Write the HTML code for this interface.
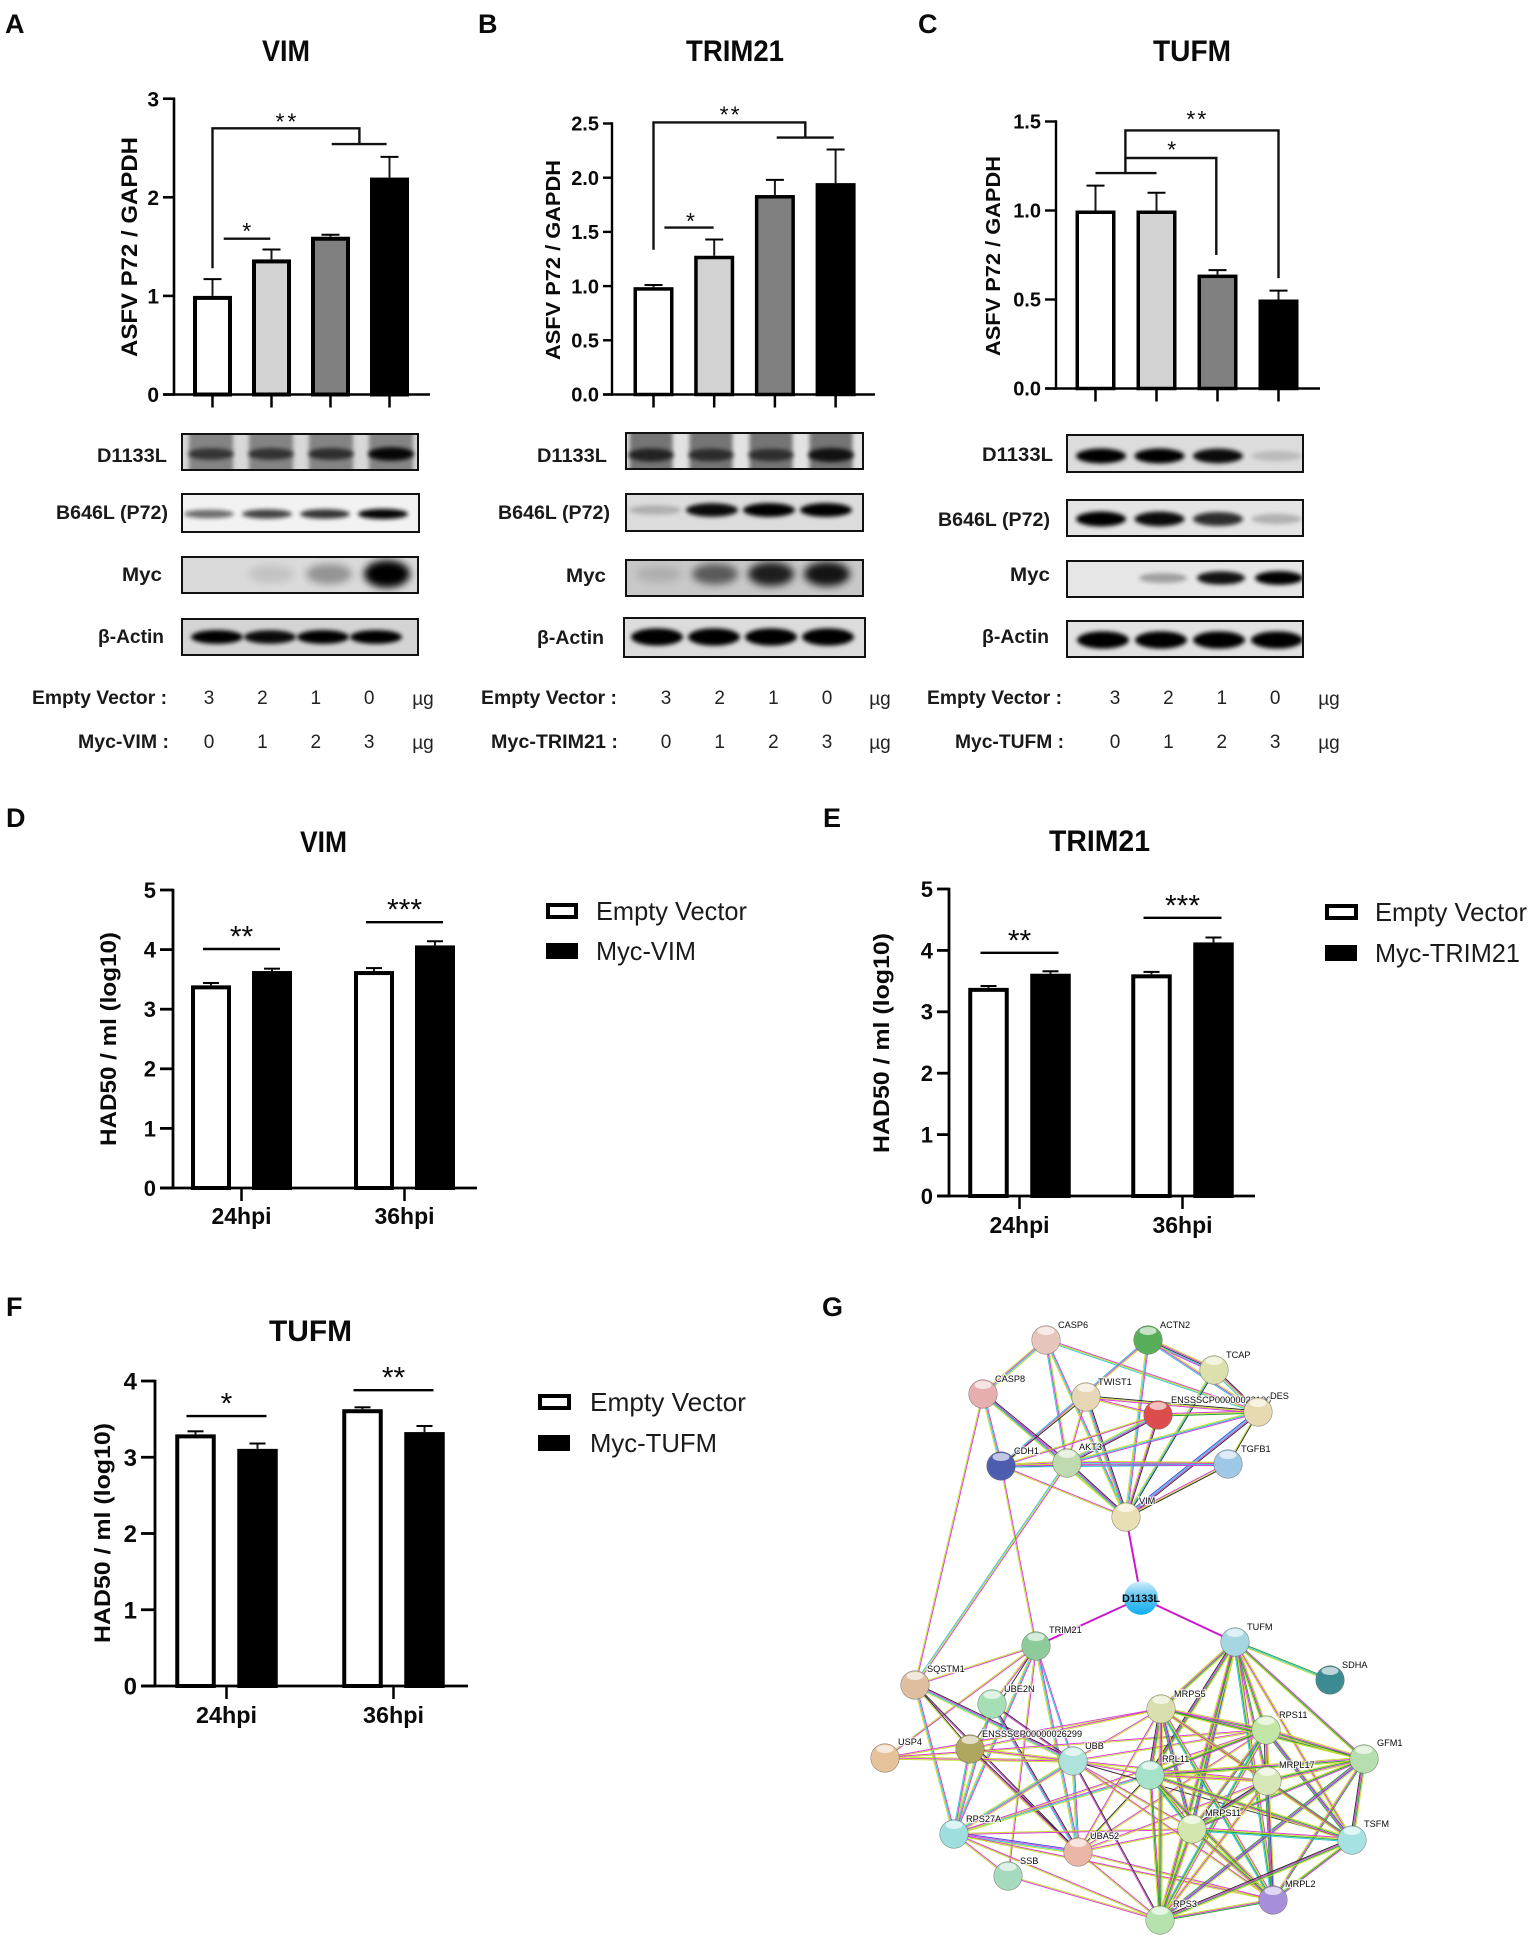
<!DOCTYPE html>
<html lang="en">
<head>
<meta charset="utf-8">
<title>ASFV P72 expression and viral titres with VIM, TRIM21 and TUFM</title>
<style>
html,body{margin:0;padding:0;background:#fff;}
svg{display:block;}
text{font-family:"Liberation Sans",Arial,sans-serif;fill:#0a0a0a;}
.b{font-weight:bold;}
.panel{font-size:27px;font-weight:bold;}
.title{font-size:30px;font-weight:bold;}
.blot{font-size:19.5px;font-weight:bold;fill:#1a1a1a;}
.row{font-size:19px;font-weight:bold;fill:#1a1a1a;}
.num{font-size:19px;fill:#222;}
.leg{font-size:26px;fill:#1a1a1a;}
.cat{font-size:23px;font-weight:bold;}
.yl{font-size:21px;font-weight:bold;}
</style>
</head>
<body>
<svg id="fig" xmlns="http://www.w3.org/2000/svg" width="1535" height="1942" viewBox="0 0 1535 1942">
<defs>
<filter id="blur2" x="-40%" y="-80%" width="180%" height="260%"><feGaussianBlur stdDeviation="2"/></filter>
<filter id="blur4" x="-40%" y="-80%" width="180%" height="260%"><feGaussianBlur stdDeviation="4"/></filter>
<linearGradient id="queryGrad" x1="0" y1="0" x2="0" y2="1"><stop offset="0" stop-color="#d4eefa"/><stop offset="0.45" stop-color="#62c6f2"/><stop offset="1" stop-color="#10aef0"/></linearGradient>
</defs>
<rect width="1535" height="1942" fill="#fff"/>

<text class="panel" x="5" y="33">A</text>
<text class="panel" x="478" y="33">B</text>
<text class="panel" x="918" y="33">C</text>
<text class="panel" x="6" y="827">D</text>
<text class="panel" x="823" y="827">E</text>
<text class="panel" x="6" y="1316">F</text>
<text class="panel" x="822" y="1316">G</text>

<text class="title" x="262" y="61" textLength="48" lengthAdjust="spacingAndGlyphs">VIM</text>
<text class="title" x="686" y="61" textLength="98" lengthAdjust="spacingAndGlyphs">TRIM21</text>
<text class="title" x="1153" y="61" textLength="78" lengthAdjust="spacingAndGlyphs">TUFM</text>
<text class="title" x="300" y="852" textLength="47" lengthAdjust="spacingAndGlyphs">VIM</text>
<text class="title" x="1049" y="851" textLength="101" lengthAdjust="spacingAndGlyphs">TRIM21</text>
<text class="title" x="269" y="1341" textLength="83" lengthAdjust="spacingAndGlyphs">TUFM</text>

<text class="b" font-size="22" transform="translate(137,357) rotate(-90)" textLength="220" lengthAdjust="spacingAndGlyphs">ASFV P72 / GAPDH</text>
<text class="b" font-size="20" transform="translate(560,360) rotate(-90)" textLength="200" lengthAdjust="spacingAndGlyphs">ASFV P72 / GAPDH</text>
<text class="b" font-size="20" transform="translate(1000,356) rotate(-90)" textLength="200" lengthAdjust="spacingAndGlyphs">ASFV P72 / GAPDH</text>
<text class="b" font-size="22" transform="translate(116,1146) rotate(-90)" textLength="214" lengthAdjust="spacingAndGlyphs">HAD50 / ml (log10)</text>
<text class="b" font-size="22" transform="translate(889,1153) rotate(-90)" textLength="220" lengthAdjust="spacingAndGlyphs">HAD50 / ml (log10)</text>
<text class="b" font-size="22" transform="translate(110,1643) rotate(-90)" textLength="220" lengthAdjust="spacingAndGlyphs">HAD50 / ml (log10)</text>

<!-- Blot labels -->
<text class="blot" x="97" y="462" textLength="70" lengthAdjust="spacingAndGlyphs">D1133L</text>
<text class="blot" x="56" y="519" textLength="112" lengthAdjust="spacingAndGlyphs">B646L (P72)</text>
<text class="blot" x="122" y="581" textLength="40" lengthAdjust="spacingAndGlyphs">Myc</text>
<text class="blot" x="98" y="643" textLength="66" lengthAdjust="spacingAndGlyphs">β-Actin</text>
<text class="blot" x="537" y="462" textLength="70" lengthAdjust="spacingAndGlyphs">D1133L</text>
<text class="blot" x="498" y="519" textLength="112" lengthAdjust="spacingAndGlyphs">B646L (P72)</text>
<text class="blot" x="566" y="582" textLength="40" lengthAdjust="spacingAndGlyphs">Myc</text>
<text class="blot" x="537" y="644" textLength="67" lengthAdjust="spacingAndGlyphs">β-Actin</text>
<text class="blot" x="982" y="461" textLength="71" lengthAdjust="spacingAndGlyphs">D1133L</text>
<text class="blot" x="938" y="526" textLength="112" lengthAdjust="spacingAndGlyphs">B646L (P72)</text>
<text class="blot" x="1010" y="581" textLength="40" lengthAdjust="spacingAndGlyphs">Myc</text>
<text class="blot" x="982" y="643" textLength="67" lengthAdjust="spacingAndGlyphs">β-Actin</text>

<!-- Dose rows -->
<text class="row" x="32" y="704" textLength="135" lengthAdjust="spacingAndGlyphs">Empty Vector :</text>
<text class="row" x="78" y="748" textLength="91" lengthAdjust="spacingAndGlyphs">Myc-VIM :</text>
<text class="row" x="481" y="704" textLength="136" lengthAdjust="spacingAndGlyphs">Empty Vector :</text>
<text class="row" x="491" y="748" textLength="127" lengthAdjust="spacingAndGlyphs">Myc-TRIM21 :</text>
<text class="row" x="927" y="704" textLength="135" lengthAdjust="spacingAndGlyphs">Empty Vector :</text>
<text class="row" x="955" y="748" textLength="109" lengthAdjust="spacingAndGlyphs">Myc-TUFM :</text>

<!-- Legends -->
<g>
<rect x="548" y="905" width="28" height="12" fill="#fff" stroke="#000" stroke-width="4"/>
<text class="leg" x="596" y="920" textLength="151" lengthAdjust="spacingAndGlyphs">Empty Vector</text>
<rect x="546" y="943" width="32" height="16" fill="#000"/>
<text class="leg" x="596" y="960" textLength="100" lengthAdjust="spacingAndGlyphs">Myc-VIM</text>
</g>
<g>
<rect x="1327" y="906" width="29" height="12" fill="#fff" stroke="#000" stroke-width="4"/>
<text class="leg" x="1375" y="921" textLength="152" lengthAdjust="spacingAndGlyphs">Empty Vector</text>
<rect x="1325" y="945" width="32" height="16" fill="#000"/>
<text class="leg" x="1375" y="962" textLength="145" lengthAdjust="spacingAndGlyphs">Myc-TRIM21</text>
</g>
<g>
<rect x="540" y="1396" width="29" height="12" fill="#fff" stroke="#000" stroke-width="4"/>
<text class="leg" x="590" y="1411" textLength="156" lengthAdjust="spacingAndGlyphs">Empty Vector</text>
<rect x="538" y="1435" width="32" height="16" fill="#000"/>
<text class="leg" x="590" y="1452" textLength="127" lengthAdjust="spacingAndGlyphs">Myc-TUFM</text>
</g>

<g id="marks"></g>
<g id="blots"></g>
<g id="doses"></g>
<g id="network"></g>
</svg>

<script>
// ---------- Bar chart data (panels A-C) ----------
const vimBlotValues = [1.0, 1.37, 1.6, 2.2];
const vimBlotErrors = [0.17, 0.10, 0.02, 0.21];
const trimBlotValues = [0.99, 1.28, 1.84, 1.95];
const trimBlotErrors = [0.02, 0.15, 0.14, 0.31];
const tufmBlotValues = [1.0, 1.0, 0.64, 0.5];
const tufmBlotErrors = [0.14, 0.10, 0.025, 0.05];
const vimBlotTicks = [0, 1, 2, 3];
const halfStepTicks = [0, 0.5, 1, 1.5, 2, 2.5];
const tufmBlotTicks = [0, 0.5, 1, 1.5];

// ---------- Bar chart data (panels D-F) ----------
const hpiCategories = ['24hpi', '36hpi'];
const vimEmptyTitre = [3.40, 3.64];
const vimMycTitre = [3.64, 4.07];
const vimEmptyError = [0.04, 0.05];
const vimMycError = [0.04, 0.07];
const trimEmptyTitre = [3.39, 3.61];
const trimMycTitre = [3.62, 4.13];
const trimEmptyError = [0.03, 0.04];
const trimMycError = [0.04, 0.08];
const tufmEmptyTitre = [3.30, 3.63];
const tufmMycTitre = [3.11, 3.33];
const tufmEmptyError = [0.04, 0.025];
const tufmMycError = [0.07, 0.08];
const titreTicksFive = [0, 1, 2, 3, 4, 5];
const titreTicksFour = [0, 1, 2, 3, 4];

// ---------- Dose table ----------
const emptyVectorDose = ['3', '2', '1', '0'];
const mycDose = ['0', '1', '2', '3'];

// ---------- Blot band intensities ----------
const aD1133L = [0.6, 0.62, 0.65, 0.95];
const aB646L = [0.55, 0.72, 0.78, 0.98];
const aMyc = [0, 0.1, 0.32, 1];
const aActin = [1, 0.95, 1, 1];
const bD1133L = [0.7, 0.62, 0.6, 0.85];
const bB646L = [0.2, 0.95, 1, 1];
const bMyc = [0.12, 0.55, 0.85, 0.9];
const bActin = [1, 1, 1, 1];
const cD1133L = [1, 1, 0.95, 0.15];
const cB646L = [1, 0.95, 0.8, 0.22];
const cMyc = [0, 0.3, 0.92, 1];
const cActin = [1, 1, 1, 1];

const NS = 'http://www.w3.org/2000/svg';
const marks = document.getElementById('marks');
const blotsLayer = document.getElementById('blots');
const dosesLayer = document.getElementById('doses');
const netLayer = document.getElementById('network');

function mk(tag, attrs, parent) {
  const n = document.createElementNS(NS, tag);
  for (const k in attrs) n.setAttribute(k, attrs[k]);
  parent.appendChild(n);
  return n;
}
function scaleY(y0, yTop, max) { return v => y0 - (v / max) * (y0 - yTop); }

function drawLine(parent, x1, y1, x2, y2, w, name) {
  const l = mk('line', {x1, y1, x2, y2, stroke: '#000', 'stroke-width': w}, parent);
  
  
  return l;
}

function drawStars(parent, cx, cy, stars, size, spacing) {
  const t = mk('text', {x: cx, y: cy + size * 0.48, 'text-anchor': 'middle', 'font-size': size, 'letter-spacing': spacing}, parent);
  t.textContent = stars;
  
  
}

function drawAxes(g, L, y, ticks, decimals) {
  drawLine(g, L.axisX, y(ticks[ticks.length - 1]) - 1.2, L.axisX, L.y0 + 1.2, L.axisW, 'y-axis-line');
  drawLine(g, L.tickLeft, L.y0, L.axisEnd, L.y0, L.axisW, 'x-axis-line');
  ticks.forEach(v => {
    drawLine(g, L.tickLeft, y(v), L.axisX, y(v), L.axisW, 'y-axis-tick');
    const t = mk('text', {x: L.tickLeft - 4, y: y(v) + L.tickFont * 0.36, 'text-anchor': 'end', 'font-size': L.tickFont, 'font-weight': 'bold'}, g);
    t.textContent = v.toFixed(decimals);
    
    
  });
}

function drawBar(g, cx, w, sw, val, err, y, y0, fill, capW, name) {
  const topY = y(val);
  const errLine = drawLine(g, cx, topY, cx, y(val + err), 2, 'error-bar');
  errLine.setAttribute('stroke', '#1a1a1a');
  drawLine(g, cx - capW / 2, y(val + err), cx + capW / 2, y(val + err), 2, 'error-bar-cap');
  const r = mk('rect', {x: cx - w / 2 + sw / 2, y: topY + sw / 2, width: w - sw, height: Math.max(0, y0 - topY - sw / 2), fill, stroke: '#000', 'stroke-width': sw}, g);
  
  
}

// ---------- Panels A-C ----------
const blotFills = ['#ffffff', '#d2d2d2', '#808080', '#000000'];

function blotChart(name, L, values, errors, ticks, decimals, sig) {
  const g = mk('g', {}, marks);
  
  
  const y = scaleY(L.y0, L.yTop, ticks[ticks.length - 1]);
  const x = i => L.first + i * L.step;
  values.forEach((v, i) => {
    drawBar(g, x(i), L.barW, L.sw, v, errors[i], y, L.y0, blotFills[i], 18, 'bar-lane-' + (i + 1));
    drawLine(g, x(i), L.y0, x(i), L.y0 + 13, 2.5, 'x-axis-tick');
  });
  drawAxes(g, L, y, ticks, decimals);
  sig.paths.forEach(p => {
    const pts = p.map(q => x(q[0]).toFixed(1) + ',' + y(q[1]).toFixed(1)).join(' ');
    const pl = mk('polyline', {points: pts, fill: 'none', stroke: '#111', 'stroke-width': 2.4}, g);
    
    
  });
  sig.stars.forEach(s => drawStars(g, x(s[0]), y(s[1]), s[2], 23, s[3]));
}

blotChart('bar-chart-vim-p72',
  {axisX:174, y0:394.5, yTop:98.7, tickLeft:163, axisEnd:430, axisW:2.6, tickFont:21, first:212.5, step:59, barW:39, sw:4},
  vimBlotValues, vimBlotErrors, vimBlotTicks, 0,
  {paths:[[[0,1.28],[0,2.70],[2.49,2.70],[2.49,2.54]], [[2.02,2.54],[2.95,2.54]], [[0.19,1.58],[0.98,1.58]]],
   stars:[[1.27,2.80,'**',3],[0.58,1.69,'*',0]]});

blotChart('bar-chart-trim21-p72',
  {axisX:612, y0:394.5, yTop:123.5, tickLeft:603, axisEnd:875, axisW:2.4, tickFont:20, first:653.5, step:60.7, barW:40, sw:3.5},
  trimBlotValues, trimBlotErrors, halfStepTicks, 1,
  {paths:[[[0,1.335],[0,2.51],[2.5,2.51],[2.5,2.37]], [[2.03,2.37],[2.97,2.37]], [[0.18,1.54],[0.99,1.54]]],
   stars:[[1.27,2.61,'**',2],[0.61,1.63,'*',0]]});

blotChart('bar-chart-tufm-p72',
  {axisX:1056, y0:388.5, yTop:121.5, tickLeft:1045, axisEnd:1320, axisW:2.4, tickFont:20, first:1095.5, step:61, barW:40, sw:3.5},
  tufmBlotValues, tufmBlotErrors, tufmBlotTicks, 1,
  {paths:[[[0,1.21],[1,1.21]], [[0.49,1.21],[0.49,1.45],[3,1.45],[3,0.62]], [[0.49,1.295],[1.98,1.295],[1.98,0.75]]],
   stars:[[1.67,1.53,'**',2],[1.25,1.36,'*',0]]});

// ---------- Panels D-F ----------
function titreChart(name, L, empty, myc, emptyErr, mycErr, ticks, sig) {
  const g = mk('g', {}, marks);
  
  
  const y = scaleY(L.y0, L.yTop, ticks[ticks.length - 1]);
  const x = i => L.first + i * L.step;
  hpiCategories.forEach((c, i) => {
    drawBar(g, x(i) - L.offset, L.barW, 4, empty[i], emptyErr[i], y, L.y0, '#ffffff', 16, 'bar-empty-vector-' + c);
    drawBar(g, x(i) + L.offset, L.barW, 4, myc[i], mycErr[i], y, L.y0, '#000000', 16, 'bar-myc-' + c);
    drawLine(g, x(i), L.y0, x(i), L.y0 + 13, 2.5, 'x-axis-tick');
    const t = mk('text', {x: x(i) - L.catW / 2, y: L.catY, textLength: L.catW, lengthAdjust: 'spacingAndGlyphs', class: 'cat'}, g);
    t.textContent = c;
    
    
    drawLine(g, x(i) - L.span, y(sig.levels[i]), x(i) + L.span, y(sig.levels[i]), 2.4, 'significance-line');
    drawStars(g, x(i), y(sig.levels[i]) - 17, sig.stars[i], 30, 0);
  });
  drawAxes(g, L, y, ticks, 0);
}

titreChart('bar-chart-vim-titre',
  {axisX:173, y0:1188, yTop:890, tickLeft:160, axisEnd:477, axisW:2.8, tickFont:22, first:241.5, step:163, offset:30.5, barW:40, span:38.5, catY:1224, catW:60},
  vimEmptyTitre, vimMycTitre, vimEmptyError, vimMycError, titreTicksFive,
  {levels:[4.01, 4.46], stars:['**', '***']});

titreChart('bar-chart-trim21-titre',
  {axisX:949, y0:1196, yTop:889, tickLeft:937, axisEnd:1255, axisW:2.8, tickFont:22, first:1019.5, step:163, offset:31, barW:40.5, span:39, catY:1233, catW:60},
  trimEmptyTitre, trimMycTitre, trimEmptyError, trimMycError, titreTicksFive,
  {levels:[3.96, 4.53], stars:['**', '***']});

titreChart('bar-chart-tufm-titre',
  {axisX:155, y0:1686, yTop:1381, tickLeft:141, axisEnd:468, axisW:2.8, tickFont:24, first:226.5, step:167, offset:31, barW:40.5, span:40, catY:1723, catW:61},
  tufmEmptyTitre, tufmMycTitre, tufmEmptyError, tufmMycError, titreTicksFour,
  {levels:[3.54, 3.88], stars:['*', '**']});

// ---------- Western blots ----------
function blot(name, B, intensities) {
  const s = mk('svg', {x: B.x, y: B.y, width: B.w, height: B.h, viewBox: B.x + ' ' + B.y + ' ' + B.w + ' ' + B.h}, blotsLayer);
  
  
  mk('rect', {x: B.x, y: B.y, width: B.w, height: B.h, fill: B.bg}, s);
  intensities.forEach((v, i) => {
    const cx = B.first + i * B.step;
    if (B.smear) {
      const sm = mk('rect', {x: cx - B.smearW / 2, y: B.y - 6, width: B.smearW, height: B.h + 12, fill: B.smear, filter: 'url(#blur2)'}, s);
      
      
    }
    if (v <= 0) return;
    const e = mk('ellipse', {cx, cy: B.bandY, rx: B.bandW / 2, ry: (B.bandH / 2) * (0.7 + 0.45 * v), fill: '#000', opacity: v, filter: B.soft ? 'url(#blur4)' : 'url(#blur2)'}, s);
    
    
  });
  const f = mk('rect', {x: B.x + 1, y: B.y + 1, width: B.w - 2, height: B.h - 2, fill: 'none', stroke: '#111', 'stroke-width': 2}, s);
  
  
}

blot('blot-d1133l-vim', {x:181,y:433,w:238,h:38,bg:'#d8d8d8',smear:'#848484',smearW:44,first:211,step:60,bandY:454,bandW:46,bandH:12}, aD1133L);
blot('blot-b646l-vim', {x:181,y:493,w:239,h:40,bg:'#f2f2f2',first:209,step:58,bandY:514,bandW:50,bandH:9}, aB646L);
blot('blot-myc-vim', {x:181,y:556,w:238,h:38,bg:'#dadada',first:213,step:58,bandY:574,bandW:46,bandH:24,soft:true}, aMyc);
blot('blot-actin-vim', {x:181,y:618,w:238,h:38,bg:'#d4d4d4',first:217,step:53,bandY:637,bandW:52,bandH:12}, aActin);

blot('blot-d1133l-trim21', {x:625,y:432,w:239,h:38,bg:'#e2e2e2',smear:'#747474',smearW:43,first:651,step:60,bandY:455,bandW:46,bandH:13}, bD1133L);
blot('blot-b646l-trim21', {x:625,y:493,w:239,h:39,bg:'#dcdcdc',first:655,step:57,bandY:510,bandW:52,bandH:12}, bB646L);
blot('blot-myc-trim21', {x:625,y:559,w:239,h:38,bg:'#c8c8c8',first:659,step:56,bandY:574,bandW:46,bandH:22,soft:true}, bMyc);
blot('blot-actin-trim21', {x:623,y:617,w:243,h:41,bg:'#dcdcdc',first:657,step:57,bandY:637,bandW:52,bandH:15}, bActin);

blot('blot-d1133l-tufm', {x:1066,y:434,w:238,h:39,bg:'#dcdcdc',first:1101,step:58.5,bandY:456,bandW:50,bandH:13}, cD1133L);
blot('blot-b646l-tufm', {x:1066,y:499,w:238,h:38,bg:'#e4e4e4',first:1101,step:58.5,bandY:519,bandW:50,bandH:13}, cB646L);
blot('blot-myc-tufm', {x:1066,y:560,w:238,h:38,bg:'#e6e6e6',first:1105,step:58,bandY:578,bandW:48,bandH:12}, cMyc);
blot('blot-actin-tufm', {x:1066,y:620,w:238,h:38,bg:'#e2e2e2',first:1103,step:58,bandY:640,bandW:52,bandH:15}, cActin);

// ---------- Dose tables ----------
function doseTable(name, first, step, unitX) {
  const rows = [[emptyVectorDose, 704], [mycDose, 748]];
  rows.forEach(r => {
    r[0].forEach((d, i) => {
      const t = mk('text', {x: first + i * step, y: r[1], 'text-anchor': 'middle', class: 'num'}, dosesLayer);
      t.textContent = d;
      
      
    });
    const u = mk('text', {x: unitX, y: r[1] + 1, 'text-anchor': 'middle', class: 'num'}, dosesLayer);
    u.textContent = 'µg';
    
    
  });
}
doseTable('vim', 209, 53.4, 423);
doseTable('trim21', 666, 53.7, 880);
doseTable('tufm', 1115, 53.4, 1329);

// ---------- Network ----------
const netNodes = [
  ['CASP6',1046,1340,'#e6c6bc',1058,1328],['ACTN2',1148,1340,'#58ae58',1160,1328],['TCAP',1214,1370,'#dde0ac',1226,1358],
  ['CASP8',983,1394,'#e6aeae',995,1382],['TWIST1',1086,1397,'#e6d6b6',1098,1385],['ENSSSCP00000022100',1158,1415,'#dc4c4c',1171,1403],
  ['DES',1258,1412,'#e8dab0',1270,1399],['CDH1',1001,1466,'#4c5cae',1014,1454],['AKT3',1067,1463,'#bedaae',1079,1450],
  ['TGFB1',1228,1464,'#9ec8e6',1241,1452],['VIM',1126,1517,'#e8e0b4',1139,1504],['TRIM21',1036,1646,'#8ecb9a',1049,1633],
  ['TUFM',1235,1642,'#a6d6e2',1247,1630],['SDHA',1330,1680,'#3c8a92',1342,1668],['SQSTM1',915,1685,'#dfbea0',927,1672],
  ['UBE2N',992,1704,'#a6dfb6',1004,1692],['MRPS5',1161,1709,'#dadeae',1174,1697],['RPS11',1266,1730,'#c2e6a6',1279,1718],
  ['GFM1',1364,1759,'#b6deae',1377,1746],['USP4',885,1758,'#e6c29a',898,1745],['ENSSSCP00000026299',970,1749,'#aea65e',982,1737],
  ['UBB',1073,1761,'#aee2da',1085,1749],['RPL11',1150,1775,'#a6e2ca',1162,1762],['MRPL17',1267,1781,'#d6e6b6',1279,1768],
  ['MRPS11',1192,1829,'#d2e6ae',1205,1816],['TSFM',1352,1840,'#a6e2e2',1364,1827],['RPS27A',954,1834,'#9edede',966,1822],
  ['UBA52',1078,1852,'#eab6a6',1090,1839],['SSB',1008,1876,'#a6dabe',1020,1864],['MRPL2',1273,1900,'#a68eda',1285,1887],
  ['RPS3',1160,1920,'#b6e2ae',1173,1907]
];
const clusterTopEdges = [
  'CASP6 CASP8 ycmy','CASP6 AKT3 ymc','CASP6 VIM mcy','CASP6 DES myc','ACTN2 TCAP ymkcm','ACTN2 DES ymc','ACTN2 VIM mcy','ACTN2 CDH1 ymc',
  'TCAP DES kmyc','TCAP VIM kcy','CASP8 AKT3 kmcy','CASP8 CDH1 mcy','CASP8 VIM mcy','CASP8 SQSTM1 my','TWIST1 ENSSSCP00000022100 my',
  'TWIST1 DES kym','TWIST1 CDH1 k','TWIST1 AKT3 my','TWIST1 VIM kmcy','ENSSSCP00000022100 DES myg','ENSSSCP00000022100 AKT3 kmcy',
  'ENSSSCP00000022100 CDH1 my','ENSSSCP00000022100 VIM kmy','DES AKT3 mcy','DES VIM kmcb','DES TGFB1 ky','CDH1 AKT3 ymck','CDH1 TGFB1 ymc',
  'AKT3 TGFB1 ymcm','CDH1 VIM my','AKT3 VIM kmcy','AKT3 SQSTM1 myc','CDH1 TRIM21 my','TGFB1 VIM kym'
];
const clusterLeftEdges = [
  'TRIM21 SQSTM1 my','TRIM21 ENSSSCP00000026299 k','TRIM21 UBE2N my','TRIM21 USP4 my','TRIM21 UBB mc','TRIM21 UBA52 mcy','TRIM21 RPS27A mcy','TRIM21 SSB my',
  'SQSTM1 UBB kmcy','SQSTM1 UBA52 km','SQSTM1 ENSSSCP00000026299 ky','SQSTM1 RPS27A mcy','UBE2N UBB km','UBE2N UBA52 kmc','UBE2N RPS27A mcy',
  'USP4 UBB ymy','USP4 MRPS5 my','USP4 RPS11 my','ENSSSCP00000026299 MRPS5 my','ENSSSCP00000026299 UBB ymy','ENSSSCP00000026299 UBA52 kmy','ENSSSCP00000026299 RPS27A ymc',
  'SSB RPS3 ym','SSB RPS27A ym','RPS27A UBB ycmy','RPS27A UBA52 bmcy','UBB UBA52 mcy','RPS27A RPS3 my','RPS27A MRPL2 my','RPS27A RPL11 mcy','RPS27A MRPS11 ym',
  'RPS27A RPS11 my','UBA52 RPS3 my','UBA52 MRPL2 my','UBA52 RPL11 ky','UBA52 MRPS11 my','UBA52 MRPS5 my','UBA52 RPS11 my','UBA52 MRPL17 my',
  'UBB MRPS5 my','UBB RPS11 my','UBB RPL11 ym','UBB MRPS11 my','UBB RPS3 km','UBB MRPL2 my','UBB TSFM k','UBB MRPL17 my'
];
const ribosomalMembers = ['TUFM','MRPS5','RPS11','GFM1','RPL11','MRPL17','MRPS11','TSFM','MRPL2','RPS3'];
const ribosomalStyles = ['ygmy','ymgy','mgy','ygmk','gmy','ybmg','ymy','mygc'];
const clusterLinkEdges = ['TUFM SDHA gcy'];
const queryEdges = ['VIM D1133L','D1133L TRIM21','D1133L TUFM'];
const channelColors = {m:'#d93ad9', y:'#c6dc28', c:'#2cc8da', k:'#2a2a2a', g:'#22a030', b:'#4248e0'};

const nodeIndex = {};
netNodes.forEach(n => { nodeIndex[n[0]] = n; });
const edgeLayer = mk('g', {}, netLayer);



function drawEdge(aName, bName, style) {
  const a = nodeIndex[aName], b = nodeIndex[bName];
  const dx = b[1] - a[1], dy = b[2] - a[2], len = Math.hypot(dx, dy);
  const nx = -dy / len, ny = dx / len;
  const g = mk('g', {}, edgeLayer);
  
  
  const gap = 1.15;
  style.split('').forEach((ch, i) => {
    const off = (i - (style.length - 1) / 2) * gap;
    mk('line', {x1: a[1] + nx * off, y1: a[2] + ny * off, x2: b[1] + nx * off, y2: b[2] + ny * off, stroke: channelColors[ch], 'stroke-width': 0.95}, g);
  });
}
[clusterTopEdges, clusterLeftEdges, clusterLinkEdges].forEach(list => list.forEach(e => {
  const p = e.split(' ');
  drawEdge(p[0], p[1], p[2]);
}));
let styleCursor = 0;
ribosomalMembers.forEach((a, i) => {
  ribosomalMembers.slice(i + 1).forEach(b => {
    drawEdge(a, b, ribosomalStyles[styleCursor % ribosomalStyles.length]);
    styleCursor++;
  });
});

const D1133L = {x: 1141, y: 1598};
netNodes.push(['D1133L', D1133L.x, D1133L.y, '', 0, 0]);
nodeIndex['D1133L'] = netNodes[netNodes.length - 1];
queryEdges.forEach(e => {
  const p = e.split(' ');
  const a = nodeIndex[p[0]], b = nodeIndex[p[1]];
  const l = mk('line', {x1: a[1], y1: a[2], x2: b[1], y2: b[2], stroke: '#cc16cc', 'stroke-width': 2}, edgeLayer);
  
  
});
netNodes.pop();

const labelLayer = mk('g', {}, netLayer);


netNodes.forEach(n => {
  const t = mk('text', {x: n[4], y: n[5], 'font-size': 9.2, fill: '#222', stroke: '#fff', 'stroke-width': 2.2, 'paint-order': 'stroke', 'stroke-opacity': 0.85}, labelLayer);
  t.textContent = n[0];
  
  
});

const defs = document.querySelector('#fig defs');
const nodeLayer = mk('g', {}, netLayer);


netNodes.forEach((n, i) => {
  const grad = mk('radialGradient', {id: 'nodeGrad' + i, cx: '50%', cy: '50%', r: '50%'}, defs);
  mk('stop', {offset: '0', 'stop-color': n[3]}, grad);
  mk('stop', {offset: '0.8', 'stop-color': n[3]}, grad);
  mk('stop', {offset: '0.94', 'stop-color': n[3], 'stop-opacity': '0.95'}, grad);
  mk('stop', {offset: '1', 'stop-color': '#55554a'}, grad);
  const c = mk('circle', {cx: n[1], cy: n[2], r: 14.5, fill: 'url(#nodeGrad' + i + ')'}, nodeLayer);
  
  
  const hi = mk('ellipse', {cx: n[1], cy: n[2] - 9, rx: 8.5, ry: 4, fill: '#fff', opacity: 0.65}, nodeLayer);
  
  
});

const q = mk('ellipse', {cx: D1133L.x, cy: D1133L.y, rx: 17, ry: 16.8, fill: 'url(#queryGrad)'}, nodeLayer);


const qt = mk('text', {x: D1133L.x - 19, y: D1133L.y + 4, 'font-size': 11, 'font-weight': 'bold', textLength: 38, lengthAdjust: 'spacingAndGlyphs'}, nodeLayer);
qt.textContent = 'D1133L';


</script>
</body>
</html>
